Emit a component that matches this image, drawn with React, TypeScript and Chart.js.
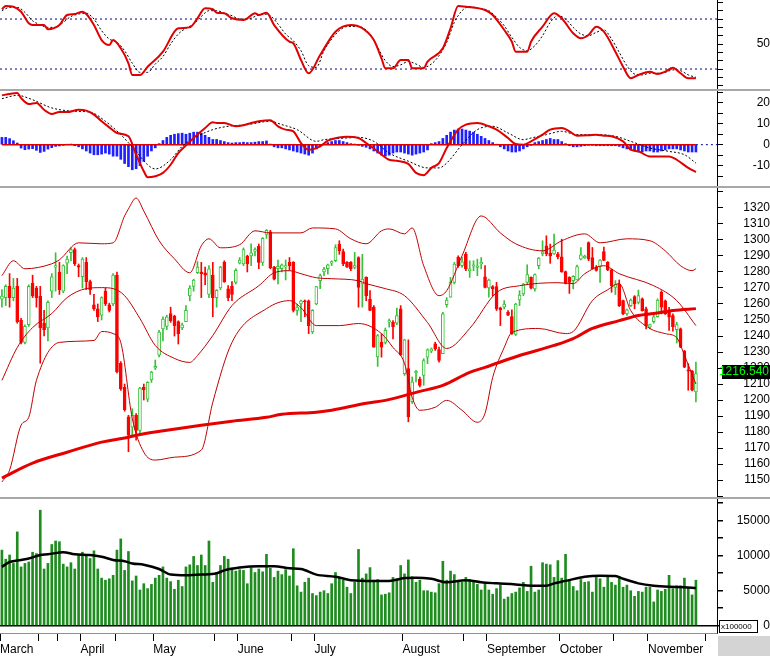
import React, { useEffect, useRef } from "react";
import { Chart, registerables } from "chart.js";
Chart.register(...registerables);

const FONT = "'Liberation Sans', Arial, sans-serif";
const X_MIN = -0.5;
const X_MAX = 186.5;
const AXIS_W = 53;

const monthLabels = ["March", "April", "May", "June", "July", "August", "September", "October", "November"];
const monthStarts = [0, 21, 40, 62, 82, 105, 127, 146, 169];
const minorTickSlots = [10, 15, 30, 56, 76, 121, 160, 184];

const opens = [
  1263, 1264, 1271, 1264, 1271, 1250, 1236, 1247, 1273, 1270, 1265, 1248, 1245, 1268, 1283, 1280, 1268, 1285.5, 1292, 1294,
  1284, 1277, 1286, 1274, 1259.5, 1257, 1253, 1268, 1259.5, 1260, 1278, 1223, 1208, 1189.5, 1183, 1190.5, 1181, 1208, 1200.5, 1212.5,
  1220, 1228, 1244.5, 1246, 1254, 1252.5, 1249, 1245, 1249, 1265, 1271, 1279.5, 1280, 1279.5, 1266, 1278, 1264, 1270, 1286, 1269.5,
  1271, 1273.5, 1285.5, 1285, 1290, 1290, 1293, 1296, 1286, 1303.5, 1305, 1283, 1282, 1282, 1283, 1286, 1286, 1256, 1260, 1262,
  1262, 1242.5, 1260, 1274.5, 1280, 1282, 1285.5, 1287, 1297.4, 1292.8, 1286, 1286, 1282.9, 1289, 1272.5, 1276.6, 1263, 1258, 1227, 1236.1,
  1236, 1248.6, 1248.6, 1248, 1256.9, 1216.5, 1219.6, 1199, 1217.1, 1212.9, 1215.4, 1226.8, 1230.5, 1235.1, 1231.5, 1228.9, 1259.6, 1264.2, 1273.5, 1289.1,
  1283.9, 1291.2, 1280.8, 1283.6, 1282.9, 1285, 1277, 1270, 1270.8, 1270.8, 1257.6, 1258, 1254.8, 1252.1, 1241, 1262.5, 1266.3, 1273.5, 1276.6, 1269.4,
  1283.9, 1291.2, 1296.4, 1291.8, 1291.2, 1291.2, 1289.5, 1280.2, 1276.6, 1274.6, 1275, 1288, 1288.7, 1298.4, 1289, 1283, 1283.3, 1292.8, 1286, 1281.4,
  1270.4, 1272.5, 1262.1, 1253.8, 1258.9, 1264.6, 1261, 1263.2, 1256.9, 1245.5, 1249, 1252.1, 1267.3, 1262, 1255.9, 1252.8, 1243.9, 1244.5, 1230.6, 1218.9,
  1218.1, 1205,
];
const highs = [
  1269, 1272, 1279, 1276, 1276, 1251, 1247, 1272, 1278, 1271, 1271, 1256, 1262, 1279, 1292, 1286, 1284.5, 1290, 1295, 1295,
  1285, 1289, 1289, 1275, 1266, 1260, 1264.5, 1270, 1260.5, 1279, 1280, 1224, 1210, 1190.5, 1194.6, 1191.5, 1208, 1210, 1211.5, 1218,
  1225, 1243.5, 1252, 1253, 1258, 1253, 1249.5, 1248, 1259, 1271.5, 1275.5, 1286.5, 1286, 1283, 1284, 1286, 1269, 1283.5, 1287, 1271.5,
  1274, 1282, 1289, 1295, 1290.5, 1297.5, 1295, 1297.5, 1301.5, 1306.5, 1306, 1283.5, 1287.5, 1285, 1287.5, 1289, 1286.5, 1260, 1262.5, 1262.5,
  1262.5, 1256.5, 1271, 1278.7, 1282.9, 1284.9, 1287, 1297, 1299.5, 1294.3, 1286.5, 1286.5, 1292.2, 1289.5, 1291, 1277, 1268.3, 1259, 1241, 1241.3,
  1245, 1250.6, 1249.6, 1257.5, 1259, 1238, 1237.6, 1214.4, 1218.5, 1214.4, 1225.8, 1232, 1232.5, 1236.1, 1233.1, 1254.8, 1264, 1276.6, 1286, 1290.1,
  1289.1, 1292.2, 1287, 1287, 1288, 1289, 1284, 1275.6, 1271.5, 1273.5, 1258, 1262.1, 1255.9, 1256.3, 1260.5, 1268.3, 1272.9, 1284.5, 1277, 1278.8,
  1289.1, 1299.5, 1302.6, 1297.4, 1303.6, 1292.2, 1300.5, 1280.6, 1277, 1277.7, 1284.3, 1295.3, 1290.5, 1298.8, 1295.3, 1284, 1287.8, 1295.6, 1286.5, 1281.8,
  1274.6, 1275, 1262.5, 1256.8, 1263.2, 1265.2, 1268.7, 1263.8, 1258, 1247.5, 1253, 1263.2, 1268.3, 1262.5, 1257.9, 1253.8, 1248.6, 1245, 1231, 1222.7,
  1218.5, 1223.7,
];
const lows = [
  1258, 1259, 1258, 1262, 1248, 1235, 1235, 1246, 1264, 1258, 1223, 1240, 1237, 1264, 1268, 1266, 1267, 1279, 1287, 1284,
  1277, 1270, 1269, 1266, 1256, 1249, 1250, 1259, 1255, 1259, 1217, 1206, 1193, 1167.7, 1178, 1175, 1178, 1200, 1199, 1211,
  1219, 1227, 1237, 1244, 1248.5, 1240, 1235, 1244, 1249, 1262, 1268, 1279, 1264, 1272, 1264, 1252, 1258, 1269, 1273.5, 1262,
  1262, 1272.5, 1285, 1284, 1280, 1284, 1290, 1282, 1284, 1301, 1282, 1275, 1272.5, 1280, 1275, 1281, 1255, 1253, 1249, 1252,
  1241.5, 1241.5, 1259.5, 1269.5, 1277.7, 1278.7, 1284, 1286.5, 1291, 1284, 1282.9, 1280.8, 1281.9, 1258, 1258, 1262.1, 1255.9, 1233, 1221, 1226.8,
  1235, 1245.5, 1238.2, 1247, 1227.8, 1215.4, 1186.4, 1197.8, 1211.3, 1208.2, 1209.2, 1222.7, 1229.5, 1231, 1223.7, 1228.9, 1258, 1264.2, 1272.5, 1282.9,
  1282.9, 1280.8, 1276.6, 1280.8, 1277.7, 1281.9, 1270, 1264.2, 1265.2, 1255.9, 1246.5, 1256.9, 1252.7, 1241, 1240.3, 1259, 1265.2, 1272.5, 1269.4, 1268,
  1281.9, 1290.1, 1290.1, 1285.4, 1291, 1288.1, 1279.8, 1272.5, 1266.6, 1269.4, 1275, 1287.5, 1288.5, 1287, 1281.9, 1280.5, 1273.5, 1287, 1280.8, 1267.3,
  1265.9, 1258.4, 1253.4, 1252.8, 1258.4, 1257, 1260, 1255.5, 1244.5, 1244.5, 1248, 1251.7, 1253.8, 1253.4, 1243.5, 1243, 1235.6, 1232.7, 1220.2, 1206.1,
  1205.7, 1198.8,
];
const closes = [
  1265, 1271, 1264, 1270, 1249, 1236, 1246, 1271, 1265, 1264, 1245, 1244, 1261, 1277, 1284, 1269, 1284, 1288, 1294, 1285,
  1283, 1288, 1274, 1269, 1257, 1252, 1264, 1260, 1256, 1278, 1217.5, 1207, 1194, 1178, 1190.5, 1181, 1207.5, 1206.5, 1211, 1217.5,
  1221, 1242.5, 1250.5, 1252, 1249.5, 1246.5, 1241.5, 1247, 1256, 1270, 1275, 1283, 1279, 1278, 1282, 1264, 1268.5, 1283, 1274, 1264,
  1266, 1281, 1287.5, 1294, 1285, 1292, 1294, 1286, 1301, 1306, 1282.5, 1275.5, 1283.5, 1284.5, 1284, 1284, 1256, 1258, 1262, 1261.5,
  1246.5, 1256, 1270.8, 1277.7, 1281.8, 1284.5, 1286.5, 1295.3, 1293.2, 1285, 1283, 1282, 1284, 1270.4, 1275.6, 1265.2, 1256, 1233.1, 1240.3, 1233,
  1243.5, 1249.6, 1245.9, 1252.7, 1228.4, 1237.6, 1189.5, 1211.3, 1217.9, 1209.2, 1224.7, 1231.4, 1232, 1232, 1224.7, 1253.8, 1262.5, 1273.5, 1284.9, 1283.9,
  1286.4, 1281.9, 1281.9, 1284.5, 1283.9, 1286, 1270.4, 1275, 1269.4, 1256.9, 1256.3, 1260, 1253, 1241.5, 1260, 1265.5, 1272.5, 1278.3, 1269.8, 1278.3,
  1288.7, 1292.6, 1291.2, 1290.1, 1293.7, 1289.5, 1280, 1272.9, 1273.5, 1277.2, 1283.3, 1290.7, 1290, 1288, 1282, 1281, 1287.5, 1287.2, 1281.2, 1271.4,
  1272.5, 1259, 1253.8, 1256.3, 1262.5, 1260, 1265.2, 1255.9, 1246.5, 1247.2, 1252, 1262.5, 1258, 1253.8, 1251.7, 1245.9, 1247.2, 1233.1, 1220.6, 1218.1,
  1206.1, 1216.54,
];

const volumes = [
  10800, 9500, 10100, 8900, 13400, 8400, 8900, 9100, 10500, 10300, 16500, 8100, 8900, 11600, 12100, 12000, 8800, 8400, 9000, 8100,
  10100, 10500, 10100, 9600, 10700, 8100, 6800, 6500, 6700, 7200, 10800, 12400, 7900, 10600, 6400, 7100, 5100, 6000, 5300, 5900,
  6800, 7200, 8400, 6800, 6300, 5200, 6500, 5600, 8400, 8700, 9900, 8600, 10100, 8600, 12100, 6200, 7600, 8600, 9900, 9500,
  8200, 7800, 8000, 7900, 6000, 8300, 7600, 8100, 7700, 10200, 8200, 6900, 7800, 7300, 8000, 7100, 11000, 5700, 4800, 6200,
  6800, 4600, 4300, 4800, 5000, 4600, 6000, 7600, 6900, 6500, 5500, 4600, 6200, 10900, 6800, 7400, 8300, 6500, 6600, 4400,
  4500, 4700, 6900, 6700, 8600, 7400, 9400, 7000, 6200, 6500, 5000, 5000, 4800, 4700, 6000, 9200, 6500, 7800, 7300, 6300,
  6200, 6900, 6600, 6200, 5900, 5100, 6000, 5100, 4500, 5300, 5800, 3800, 4100, 4600, 4800, 5400, 6200, 4900, 8500, 4800,
  5100, 9000, 8800, 8700, 6900, 9300, 6800, 10200, 6600, 5600, 5000, 6600, 6200, 6300, 4800, 6900, 6700, 5500, 7000, 6200,
  5800, 7000, 5500, 5800, 5000, 4200, 4900, 4800, 5500, 5500, 3400, 5100, 4900, 5200, 7200, 5300, 5700, 5700, 6800, 5400,
  4400, 6500,
];

const volMaIdx = [0, 2, 5, 7, 10, 12, 16, 19, 23, 26, 29, 32, 34, 37, 41, 44, 48, 52, 56, 58, 62, 67, 71, 75, 78, 82, 87, 91, 97, 101, 105, 108, 112, 116, 121, 125, 129, 134, 138, 142, 144, 147, 152, 156, 160, 162, 166, 170, 174, 178, 181];
const volMaVal = [8400, 9100, 9400, 9600, 10100, 10200, 10500, 10200, 10100, 9850, 9400, 9200, 8900, 8700, 8100, 7300, 7200, 7300, 7500, 7900, 8300, 8500, 8500, 8200, 8100, 7300, 7000, 6500, 6400, 6400, 6800, 6850, 6700, 6200, 6500, 6200, 6050, 5900, 5700, 5700, 6050, 6400, 7000, 7150, 7100, 6700, 6050, 5700, 5550, 5500, 5400];

const bbUpIdx = [0, 3, 6, 13, 15, 20, 26, 29, 32, 33, 35, 37, 41, 45, 49, 52, 54, 57, 62, 66, 70, 78, 81, 87, 91, 95, 99, 101, 105, 107, 110, 114, 116, 120, 125, 130, 134, 141, 146, 152, 156, 163, 169, 173, 177, 180, 181];
const bbUpVal = [1277.7, 1287, 1282, 1285.1, 1287.6, 1298.2, 1297.6, 1298.2, 1315, 1319.4, 1326.2, 1318.1, 1299.5, 1288.2, 1279.5, 1296.3, 1300.7, 1295.1, 1297, 1305.7, 1304.4, 1304.4, 1307.5, 1306.9, 1300.7, 1297.6, 1305.7, 1306.9, 1303.8, 1307.5, 1283.9, 1265.2, 1268.3, 1290.1, 1315, 1304.4, 1297.6, 1293.2, 1299.5, 1303.8, 1298.2, 1300.7, 1299.5, 1293.2, 1283.9, 1280.8, 1282];
const bbMidIdx = [0, 4, 8, 13, 17, 22, 26, 29, 32, 36, 40, 45, 49, 51, 55, 60, 67, 71, 75, 78, 82, 86, 93, 95, 100, 105, 111, 116, 122, 129, 135, 145, 149, 152, 157, 161, 170, 176, 181];
const bbMidVal = [1212.3, 1232.8, 1245.3, 1254, 1264, 1269.6, 1270.2, 1269.6, 1265.2, 1250.9, 1234.1, 1226, 1223.5, 1227.8, 1240.3, 1259, 1271.4, 1279.5, 1280.8, 1278.9, 1276.4, 1275.8, 1274.5, 1272.7, 1269.6, 1265.2, 1248.4, 1232.2, 1244.7, 1267.1, 1271.4, 1273.3, 1272.7, 1278.9, 1283.9, 1278.9, 1271.4, 1262.1, 1246.5];
const bbLowIdx = [0, 2, 5, 7, 9, 15, 24, 26, 29, 31, 34, 37, 40, 45, 52, 55, 60, 69, 75, 78, 82, 88, 93, 99, 102, 105, 107, 109, 113, 116, 120, 124, 126, 128, 131, 133, 140, 147, 149, 154, 158, 161, 164, 169, 173, 176, 177, 179, 181];
const bbLowVal = [1148.8, 1156.2, 1184.3, 1189.2, 1212.3, 1236, 1237.2, 1242.8, 1241.5, 1236, 1188.6, 1167.4, 1162.5, 1164.3, 1168.7, 1198.6, 1236, 1257.1, 1262.1, 1257.7, 1246.5, 1246.5, 1247.8, 1241.5, 1232.8, 1222.9, 1201.7, 1193.6, 1195.5, 1199.8, 1193.6, 1186.1, 1191.7, 1214.1, 1232.8, 1242.2, 1244.7, 1241.5, 1242.8, 1262.1, 1268.9, 1272.7, 1255.9, 1244.7, 1241.5, 1239, 1234.1, 1222, 1210];
const ma200Idx = [0, 8, 17, 26, 33, 35, 43, 52, 60, 69, 73, 82, 86, 95, 100, 109, 115, 122, 126, 135, 144, 149, 154, 161, 166, 170, 175, 181];
const ma200Val = [1151.3, 1160.6, 1167.4, 1173.7, 1176.8, 1178, 1181.1, 1184.3, 1186.8, 1189.2, 1191.1, 1192.4, 1193.6, 1198, 1199.8, 1205.4, 1209.2, 1217.3, 1220.4, 1227.8, 1234.1, 1238.4, 1244.7, 1249.6, 1252.8, 1254, 1255.9, 1257.1];

const stochKIdx = [0, 1, 3, 5, 7, 8, 11, 12, 15, 17, 19, 21, 22, 24, 26, 28, 29, 31, 33, 34, 36, 38, 42, 45, 46, 49, 51, 53, 55, 56, 58, 60, 63, 64, 66, 67, 69, 71, 75, 76, 78, 80, 83, 87, 91, 94, 97, 99, 100, 102, 104, 106, 107, 110, 111, 115, 117, 119, 121, 126, 128, 131, 133, 134, 137, 138, 141, 144, 146, 149, 151, 153, 155, 157, 160, 162, 164, 166, 169, 171, 173, 175, 177, 179, 181];
const stochKVal = [91.7, 95.6, 94.8, 88.8, 74.9, 72.8, 72.8, 67.7, 72.8, 84.8, 86, 88.8, 86, 72.8, 54.8, 48.8, 54.8, 44.9, 26.9, 12.8, 12.8, 22.8, 40.8, 64.8, 68.9, 70, 80.9, 92.9, 91.7, 87.6, 86.9, 80.9, 78.8, 80.9, 86.9, 84.8, 87.6, 72.8, 52.8, 50.9, 30.8, 14.9, 36.8, 64.8, 72.8, 68.9, 54.8, 32.9, 20.9, 20.9, 30.8, 30.8, 20.9, 20.9, 28.8, 44.9, 68.9, 95.6, 94.8, 90.8, 84.8, 66.8, 52.8, 40.8, 40.8, 52.8, 70.8, 86.9, 80.9, 62.9, 56.9, 60.8, 70.8, 64.8, 40.8, 22.8, 8.9, 12.8, 16.8, 14, 16.8, 21.6, 14.9, 8.9, 8.9];
const stochDIdx = [0, 2, 4, 6, 8, 10, 12, 14, 16, 18, 20, 22, 24, 26, 28, 30, 32, 34, 36, 38, 40, 42, 44, 46, 48, 50, 52, 54, 56, 58, 60, 62, 64, 66, 68, 70, 72, 74, 76, 78, 80, 82, 84, 86, 88, 90, 93, 96, 98, 100, 102, 104, 106, 108, 110, 112, 114, 116, 118, 120, 122, 124, 127, 129, 131, 133, 135, 137, 139, 141, 143, 145, 147, 149, 151, 153, 155, 157, 159, 161, 163, 165, 167, 169, 171, 173, 175, 177, 179, 181];
const stochDVal = [90, 94, 94, 88, 78, 73, 70, 70, 76, 83, 86, 87, 80, 66, 56, 52, 42, 27, 16, 16, 26, 35, 50, 62, 69, 74, 83, 90, 90, 87, 84, 80, 80, 83, 86, 84, 74, 62, 54, 42, 24, 22, 42, 56, 66, 71, 71, 62, 46, 30, 23, 25, 29, 26, 22, 26, 36, 52, 76, 90, 95, 93, 90, 82, 72, 58, 46, 42, 48, 60, 76, 84, 80, 70, 62, 60, 64, 67, 56, 40, 24, 14, 13, 15, 15, 16, 19, 18, 13, 10];

const macdIdx = [0, 2, 4, 5, 7, 9, 11, 13, 15, 17, 20, 22, 24, 26, 28, 30, 33, 35, 37, 38, 40, 42, 44, 46, 48, 50, 53, 55, 56, 58, 61, 63, 65, 67, 70, 72, 74, 76, 78, 80, 83, 85, 88, 90, 93, 95, 98, 101, 103, 106, 108, 110, 112, 114, 116, 119, 121, 124, 127, 129, 132, 134, 136, 138, 141, 143, 146, 148, 150, 153, 155, 157, 159, 162, 164, 166, 169, 171, 174, 176, 179, 181];
const macdVal = [23.6, 24.3, 24.7, 22.3, 19.5, 20, 16.7, 14.7, 15.6, 15.6, 16.7, 16.3, 14.4, 11.2, 8.3, 5.6, 4, -4.8, -12.7, -15.6, -15.1, -13.5, -9.6, -4, -0.3, 3.2, 8, 10.7, 10.4, 10.4, 8.8, 9.3, 10.4, 11.2, 11.7, 8.8, 7.2, 6.4, 0.8, -2.4, -0.8, 1.9, 3.5, 3.8, 3.2, 0.8, -3.2, -7.2, -7.7, -9.2, -13.5, -14.6, -11.1, -8.8, -1.6, 7.2, 9.6, 10.4, 8.8, 7.2, 3.2, 0.3, 0, 1.6, 4.8, 7.2, 8, 6.4, 4.3, 4.5, 4.8, 4.3, 4, 1.6, -2.4, -3.2, -5.6, -5.6, -5.6, -7.2, -11.1, -13.1];
const signalIdx = [0, 4, 8, 13, 19, 23, 27, 31, 35, 38, 40, 44, 47, 51, 55, 59, 64, 70, 73, 77, 82, 84, 90, 93, 97, 101, 106, 111, 114, 116, 120, 124, 128, 132, 136, 138, 142, 146, 150, 155, 160, 164, 169, 174, 178, 181];
const signalVal = [22, 23.6, 21.5, 17.6, 16, 15.6, 11.2, 4.8, -3.2, -9.6, -11.6, -7.2, -0.8, 4, 7.2, 8.8, 9.6, 11.2, 9.6, 7.2, 1.6, 2.4, 3.2, 3.5, 1.6, -4, -7.9, -11.1, -11.1, -8.8, 0, 7.2, 8.8, 5.6, 2.4, 3.2, 4.8, 6.4, 4.8, 4.8, 4, 1.6, -1.6, -3.2, -4.8, -8.8];
const macdHist = [
  3.5, 3.5, 2.9, 1.9, 0.8, -1.6, -2.4, -2.1, -1.9, -2.7, -3.7, -3.2, -2.1, -1.4, -0.8, -0.6, -0.3, 0.1, 0.3, -0.5,
  -1, -2, -3, -4, -4.8, -4.8, -4.5, -4, -4.5, -5.5, -5.5, -7, -9, -10.5, -12, -11.5, -10, -8, -5.5, -3,
  -1.5, 0.5, 2, 3.5, 4.5, 5, 5.3, 5.5, 5, 5.5, 6, 6, 5.5, 4.5, 3.5, 2.5, 2.5, 2, 1.5, 1,
  0.8, 1, 1, 1.2, 1, 1, 1.2, 1.5, 1.5, 1.8, 0.3, -1, -1.5, -1.5, -2, -2.5, -3, -3.5, -4, -4.5,
  -5, -4, -2, -1, 0.5, 1, 1.5, 2, 2, 1.5, 1, 0.5, 0.3, -0.3, -0.8, -1.2, -2, -3, -4, -5,
  -5.5, -5, -4, -3.5, -3.5, -4, -4.5, -5, -4.5, -4, -3.5, -2.5, 0.5, 1, 1.5, 3, 4.5, 6, 7, 7.5,
  7.5, 7, 6.5, 6, 5, 4, 3, 2, 1, 0.2, -1, -2, -3, -3.5, -3.5, -3, -2, -1, -0.3, 1,
  1.5, 2, 2.5, 3, 2.5, 2.5, 1.5, 0.5, -0.5, -1, -1, -0.8, -0.5, -0.3, -0.3, -0.5, -0.5, -0.5, -0.5, -0.5,
  -0.5, -0.8, -1.5, -2, -2.5, -3, -3.5, -3.5, -3, -3, -3.5, -3.5, -3, -2.5, -2, -2, -2, -2.5, -3, -3.5,
  -3.5, -3.5,
];

const priceTicks = [1140, 1150, 1160, 1170, 1180, 1190, 1200, 1210, 1220, 1230, 1240, 1250, 1260, 1270, 1280, 1290, 1300, 1310, 1320, 1330];
const priceLabels = [1150, 1160, 1170, 1180, 1190, 1200, 1210, 1220, 1230, 1240, 1250, 1260, 1270, 1280, 1290, 1300, 1310, 1320];
const volTicks = [0, 2500, 5000, 7500, 10000, 12500, 15000, 17500];
const volLabels = [0, 5000, 10000, 15000];
const macdTicks = [-15, -10, -5, 0, 5, 10, 15, 20, 25];
const macdLabels = [-10, 0, 10, 20];
const stochTicks = [0, 10, 20, 30, 40, 50, 60, 70, 80, 90, 100];
const stochLabels = [50];
const stochLevels = [20, 80];

const RED = "#ff0000";
const GREEN = "#39c039";
const BAND = "#c00000";

const pts = (xs: number[], ys: number[]) => xs.map((x, i) => ({ x, y: ys[i] }));

function rightAxis(min: number, max: number, ticks: number[], labels: number[], widest: number) {
  return {
    type: "linear",
    position: "right",
    min,
    max,
    afterBuildTicks: (s: any) => {
      s.ticks = ticks.map((v) => ({ value: v }));
    },
    afterFit: (s: any) => {
      s.width = AXIS_W;
      s.paddingTop = 0;
      s.paddingBottom = 0;
    },
    grid: { drawOnChartArea: false, drawTicks: true, tickLength: 6, tickColor: "#000", tickWidth: 1 },
    border: { display: true, color: "#000", width: 1 },
    ticks: {
      autoSkip: false,
      crossAlign: "far",
      padding: 36 - widest,
      color: "#000",
      font: { family: FONT, size: 12 },
      callback: (v: number) => (labels.indexOf(v) >= 0 ? String(v) : ""),
    },
  };
}

const hiddenX = { type: "linear", min: X_MIN, max: X_MAX, display: false, offset: false, grid: { offset: false } };

function baseOptions(scales: any) {
  return {
    responsive: false,
    animation: false,
    events: [],
    layout: { padding: 0 },
    plugins: { legend: { display: false }, tooltip: { enabled: false } },
    scales,
  };
}

const lineDs = (data: any, color: string, width: number, order: number, dash: number[] = []) => ({
  type: "line",
  data,
  borderColor: color,
  borderWidth: width,
  borderDash: dash,
  pointRadius: 0,
  fill: false,
  cubicInterpolationMode: "monotone",
  order,
});

const priceTag = {
  id: "priceTag",
  afterDraw(chart: any) {
    const last = closes.length - 1;
    const y = Math.round(chart.scales.y.getPixelForValue(closes[last]));
    const ctx = chart.ctx;
    ctx.save();
    ctx.fillStyle = "#000";
    ctx.fillRect(722, y - 9, 48, 14);
    ctx.fillStyle = "#00ff00";
    ctx.font = `12px ${FONT}`;
    ctx.textAlign = "right";
    ctx.textBaseline = "middle";
    ctx.fillText(closes[last].toFixed(3), 769, y - 2);
    ctx.restore();
  },
};

const volDecor = {
  id: "volDecor",
  afterDraw(chart: any) {
    const ctx = chart.ctx;
    const y0 = Math.round(chart.scales.y.getPixelForValue(0));
    ctx.save();
    ctx.fillStyle = "#d4d4d4";
    ctx.fillRect(718, chart.chartArea.bottom + 3, 52, 30);
    ctx.fillStyle = "#fff";
    ctx.fillRect(719.5, y0 - 5.5, 38, 12);
    ctx.strokeStyle = "#000";
    ctx.lineWidth = 1;
    ctx.strokeRect(719.5, y0 - 5.5, 38, 12);
    ctx.fillStyle = "#000";
    ctx.font = `8px ${FONT}`;
    ctx.textAlign = "left";
    ctx.textBaseline = "middle";
    ctx.fillText("x100000", 721, y0 + 0.5);
    ctx.restore();
  },
};

export default function App() {
  const c1 = useRef<HTMLCanvasElement>(null);
  const c2 = useRef<HTMLCanvasElement>(null);
  const c3 = useRef<HTMLCanvasElement>(null);
  const c4 = useRef<HTMLCanvasElement>(null);

  useEffect(() => {
    const idx = closes.map((_, i) => i);
    const up = closes.map((c, i) => c >= opens[i]);

    const stoch = new Chart(c1.current as HTMLCanvasElement, {
      type: "line",
      data: {
        datasets: [
          lineDs(pts(stochKIdx, stochKVal), "#e00000", 2, 1) as any,
          lineDs(pts(stochDIdx, stochDVal), "#000", 1, 2, [2, 2]) as any,
          ...stochLevels.map((lv) => lineDs([{ x: X_MIN, y: lv }, { x: X_MAX, y: lv }], "#000080", 1, 3, [2, 3]) as any),
        ],
      },
      options: baseOptions({ x: hiddenX, y: rightAxis(-3.96, 102.84, stochTicks, stochLabels, 13.4) }) as any,
    });

    const macd = new Chart(c2.current as HTMLCanvasElement, {
      type: "bar",
      data: {
        datasets: [
          lineDs(pts(macdIdx, macdVal), "#e00000", 2, 1) as any,
          lineDs(pts(signalIdx, signalVal), "#000", 1, 2, [2, 2]) as any,
          lineDs([{ x: 0, y: 0 }, { x: 181, y: 0 }], "#e00000", 1.5, 3) as any,
          lineDs([{ x: 181, y: 0 }, { x: X_MAX, y: 0 }], "#0000a0", 1, 3, [2, 3]) as any,
          {
            type: "bar",
            data: idx.map((i) => ({ x: i, y: macdHist[i] })),
            backgroundColor: "#1f1fff",
            barThickness: 2,
            grouped: false,
            order: 4,
          } as any,
        ],
      },
      options: baseOptions({ x: hiddenX, y: rightAxis(-19.76, 25.69, macdTicks, macdLabels, 17.3) }) as any,
    });

    const price = new Chart(c3.current as HTMLCanvasElement, {
      type: "bar",
      data: {
        datasets: [
          lineDs(pts(ma200Idx, ma200Val), "#e60000", 3, 1) as any,
          lineDs(pts(bbUpIdx, bbUpVal), BAND, 1, 2) as any,
          lineDs(pts(bbMidIdx, bbMidVal), BAND, 1, 2) as any,
          lineDs(pts(bbLowIdx, bbLowVal), BAND, 1, 2) as any,
          {
            type: "bar",
            data: idx.map((i) => ({ x: i, y: [opens[i], closes[i]] })),
            backgroundColor: up.map((u) => (u ? "#ffffff" : RED)),
            borderColor: up.map((u) => (u ? GREEN : RED)),
            borderWidth: 1,
            borderSkipped: false,
            barThickness: 3,
            grouped: false,
            order: 5,
          } as any,
          {
            type: "bar",
            data: idx.map((i) => ({ x: i, y: [lows[i], highs[i]] })),
            backgroundColor: up.map((u) => (u ? GREEN : RED)),
            barThickness: 1,
            grouped: false,
            order: 6,
          } as any,
        ],
      },
      options: baseOptions({ x: hiddenX, y: rightAxis(1139.43, 1332.45, priceTicks, priceLabels, 26.7) }) as any,
      plugins: [priceTag],
    });

    const volOpts: any = baseOptions({
      x: {
        type: "linear",
        min: X_MIN,
        max: X_MAX,
        position: "bottom",
        offset: false,
        afterBuildTicks: (s: any) => {
          const all = monthStarts.concat(minorTickSlots).sort((a, b) => a - b);
          s.ticks = all.map((m) => ({ value: m - 0.5 }));
        },
        afterFit: (s: any) => {
          s.height = 23;
          s.paddingLeft = 0;
          s.paddingRight = 0;
        },
        grid: { offset: false, drawOnChartArea: false, drawTicks: true, tickLength: 8, tickColor: "#000" },
        border: { display: true, color: "#909090", width: 1 },
        ticks: {
          autoSkip: false,
          maxRotation: 0,
          align: "start",
          labelOffset: 0,
          padding: 1,
          color: "#000",
          font: { family: FONT, size: 12 },
          callback: (v: number) => {
            const k = monthStarts.indexOf(v + 0.5);
            return k >= 0 ? monthLabels[k] : "";
          },
        },
      },
      y: {
        ...rightAxis(-1043, 18100, volTicks, volLabels, 33.4),
        grid: {
          drawOnChartArea: true,
          drawTicks: true,
          tickLength: 6,
          tickColor: "#000",
          color: (c: any) => (c.tick && c.tick.value === 0 ? "#000" : "rgba(0,0,0,0)"),
          lineWidth: 1.5,
        },
      },
    });

    const vol = new Chart(c4.current as HTMLCanvasElement, {
      type: "bar",
      data: {
        datasets: [
          lineDs(pts(volMaIdx, volMaVal), "#000", 2.5, 1) as any,
          {
            type: "bar",
            data: idx.map((i) => ({ x: i, y: volumes[i] })),
            backgroundColor: "#1f8c1f",
            barThickness: 2,
            grouped: false,
            order: 2,
          } as any,
        ],
      },
      options: volOpts,
      plugins: [volDecor],
    });

    return () => {
      stoch.destroy();
      macd.destroy();
      price.destroy();
      vol.destroy();
    };
  }, []);

  const cv = (top: number, h: number): React.CSSProperties => ({ position: "absolute", left: 0, top, width: 770, height: h });
  const sep = (top: number): React.CSSProperties => ({
    position: "absolute",
    left: 0,
    top,
    width: 770,
    height: 2,
    background: "#a8a8a8",
  });

  return (
    <div style={{ position: "fixed", left: 0, top: 0, width: 770, height: 656, background: "#fff", overflow: "hidden" }}>
      <canvas ref={c1} width={770} height={89} style={cv(0, 89)} />
      <div style={sep(89)} />
      <canvas ref={c2} width={770} height={95} style={cv(91, 95)} />
      <div style={sep(186)} />
      <canvas ref={c3} width={770} height={309} style={cv(188, 309)} />
      <div style={sep(497)} />
      <canvas ref={c4} width={770} height={157} style={cv(499, 157)} />
    </div>
  );
}
